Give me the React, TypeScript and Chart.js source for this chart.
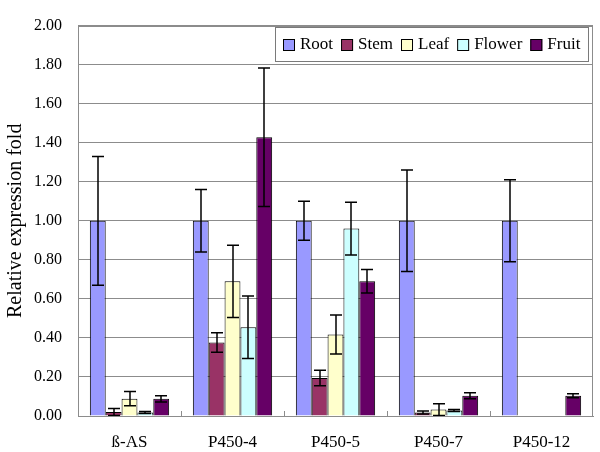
import React, { useEffect, useRef } from "react";
import { Chart, registerables } from "chart.js";
Chart.register(...registerables);

const categories = ["ß-AS", "P450-4", "P450-5", "P450-7", "P450-12"];
const seriesNames = ["Root", "Stem", "Leaf", "Flower", "Fruit"];
const rootValues = [1.0, 1.0, 1.0, 1.0, 1.0];
const rootErrors = [0.33, 0.16, 0.1, 0.26, 0.21];
const stemValues = [0.02, 0.376, 0.195, 0.018, 0];
const stemErrors = [0.018, 0.05, 0.04, 0.008, 0];
const leafValues = [0.089, 0.69, 0.417, 0.033, 0];
const leafErrors = [0.037, 0.185, 0.1, 0.03, 0];
const flowerValues = [0.018, 0.455, 0.96, 0.028, 0];
const flowerErrors = [0.005, 0.16, 0.135, 0.005, 0];
const fruitValues = [0.088, 1.428, 0.69, 0.104, 0.104];
const fruitErrors = [0.016, 0.355, 0.06, 0.015, 0.01];
const seriesColors = ["#9999FF", "#993366", "#FFFFCC", "#CCFFFF", "#660066"];
const yMin = 0;
const yMax = 2;
const yStep = 0.2;
const yTitle = "Relative expression fold";

const allValues = [rootValues, stemValues, leafValues, flowerValues, fruitValues];
const allErrors = [rootErrors, stemErrors, leafErrors, flowerErrors, fruitErrors];

const FONT = "'Liberation Serif', 'Times New Roman', serif";
const GRID = "#8c8c8c";

const errorBarPlugin = {
  id: "errorBars",
  afterDatasetsDraw(chart: any) {
    const ctx = chart.ctx;
    const y = chart.scales.y;
    ctx.save();
    ctx.strokeStyle = "#000";
    ctx.lineWidth = 1.5;
    chart.data.datasets.forEach((ds: any, i: number) => {
      const meta = chart.getDatasetMeta(i);
      meta.data.forEach((el: any, j: number) => {
        const v = ds.data[j];
        const e = ds.errors[j];
        if (!e) return;
        const x = Math.round(el.x);
        const top = y.getPixelForValue(v + e);
        const bot = y.getPixelForValue(Math.max(0, v - e));
        ctx.beginPath();
        ctx.moveTo(x, top);
        ctx.lineTo(x, bot);
        ctx.moveTo(x - 6, top);
        ctx.lineTo(x + 6, top);
        ctx.moveTo(x - 6, bot);
        ctx.lineTo(x + 6, bot);
        ctx.stroke();
      });
    });
    ctx.restore();
  },
};

const framePlugin = {
  id: "frame",
  afterDraw(chart: any) {
    const ctx = chart.ctx;
    const a = chart.chartArea;
    const xs = chart.scales.x;
    ctx.save();
    ctx.strokeStyle = GRID;
    ctx.lineWidth = 1;
    ctx.strokeRect(Math.round(a.left) + 0.5, Math.round(a.top) + 0.5, Math.round(a.right - a.left) - 1, Math.round(a.bottom - a.top));
    // small inner tick marks at category boundaries
    ctx.beginPath();
    for (let i = 1; i < categories.length; i++) {
      const bx = Math.round((xs.getPixelForValue(i - 1) + xs.getPixelForValue(i)) / 2) + 0.5;
      ctx.moveTo(bx, a.bottom);
      ctx.lineTo(bx, a.bottom - 5);
    }
    ctx.stroke();

    // legend
    ctx.font = `17px ${FONT}`;
    ctx.textBaseline = "middle";
    const sq = 12;
    const gapIn = 5;
    const gapOut = 8;
    const pad = 8;
    let contentW = 0;
    seriesNames.forEach((n, i) => {
      contentW += sq + gapIn + ctx.measureText(n).width + (i < seriesNames.length - 1 ? gapOut : 0);
    });
    const boxW = contentW + pad * 2;
    const boxH = 34;
    const boxR = Math.round(a.right) - 5;
    const boxL = Math.round(boxR - boxW);
    const boxT = Math.round(a.top) + 1;
    ctx.fillStyle = "#fff";
    ctx.fillRect(boxL, boxT, boxW, boxH);
    ctx.strokeStyle = "#7a7a7a";
    ctx.strokeRect(boxL + 0.5, boxT + 0.5, Math.round(boxW), boxH);
    let cx = boxL + pad;
    const cy = boxT + boxH / 2 + 1;
    seriesNames.forEach((n, i) => {
      ctx.fillStyle = seriesColors[i];
      ctx.fillRect(cx, Math.round(cy - sq / 2), sq, sq);
      ctx.strokeStyle = "#000";
      ctx.strokeRect(cx + 0.5, Math.round(cy - sq / 2) + 0.5, sq - 1, sq - 1);
      cx += sq + gapIn;
      ctx.fillStyle = "#000";
      ctx.textAlign = "left";
      ctx.fillText(n, cx, cy);
      cx += ctx.measureText(n).width + gapOut;
    });
    ctx.restore();
  },
};

export default function App() {
  const ref = useRef<HTMLCanvasElement>(null);
  useEffect(() => {
    if (!ref.current) return;
    const chart = new Chart(ref.current, {
      type: "bar",
      data: {
        labels: categories,
        datasets: seriesNames.map((name, i) => ({
          label: name,
          data: allValues[i],
          errors: allErrors[i],
          backgroundColor: seriesColors[i],
          borderColor: "#000",
          borderWidth: 1,
          categoryPercentage: 0.77,
          barPercentage: 1.0,
        })) as any,
      },
      options: {
        responsive: false,
        animation: false,
        layout: { padding: { top: 13, right: 7, left: 0, bottom: 0 } },
        plugins: { legend: { display: false }, tooltip: { enabled: false } },
        scales: {
          x: {
            grid: { display: false, drawTicks: false },
            border: { display: true, color: GRID },
            ticks: { color: "#000", font: { family: FONT, size: 17 }, padding: 16 },
            afterFit: (s: any) => { s.height = 36; },
          },
          y: {
            min: yMin,
            max: yMax,
            grid: { color: GRID, drawTicks: false },
            border: { display: true, color: GRID },
            ticks: {
              stepSize: yStep,
              color: "#000",
              font: { family: FONT, size: 16 },
              padding: 16,
              callback: (v: any) => Number(v).toFixed(2),
            },
            title: {
              display: true,
              text: yTitle,
              color: "#000",
              font: { family: FONT, size: 20 },
              padding: { top: 4, bottom: 0 },
            },
            afterFit: (s: any) => { s.width = 78; },
          },
        },
      } as any,
      plugins: [errorBarPlugin, framePlugin],
    });
    return () => chart.destroy();
  }, []);
  return (
    <div style={{ position: "absolute", left: 0, top: 0, width: 600, height: 452, background: "#fff" }}>
      <canvas ref={ref} width={600} height={452} />
    </div>
  );
}
